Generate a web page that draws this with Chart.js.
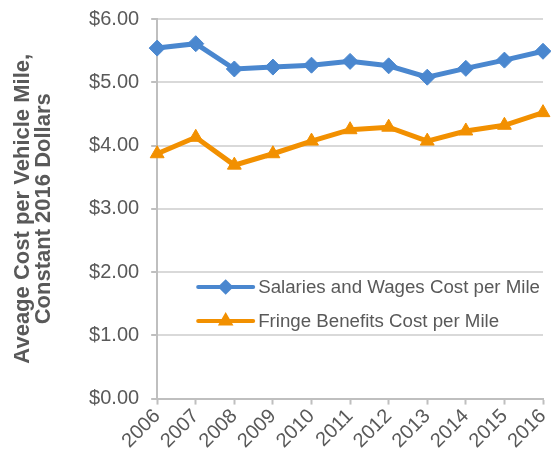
<!DOCTYPE html>
<html>
<head>
<meta charset="utf-8">
<script src="https://cdn.jsdelivr.net/npm/chart.js@4/dist/chart.umd.min.js"></script>
<style>
  html, body { margin: 0; padding: 0; background: #fff; }
  #wrap { width: 551px; height: 457px; position: relative; }
</style>
</head>
<body>
<div id="wrap"><canvas id="c" width="551" height="457"></canvas></div>
<script>
const years = ["2006","2007","2008","2009","2010","2011","2012","2013","2014","2015","2016"];
const salariesWages = [5.54, 5.61, 5.21, 5.24, 5.27, 5.33, 5.26, 5.08, 5.22, 5.35, 5.49];
const fringeBenefits = [3.87, 4.13, 3.69, 3.87, 4.07, 4.25, 4.29, 4.07, 4.23, 4.32, 4.52];
const seriesNames = ["Salaries and Wages Cost per Mile", "Fringe Benefits Cost per Mile"];
const yTitle = ["Aveage Cost per Vehicle Mile,", "Constant 2016 Dollars"];

const BLUE = '#4a87cf';
const ORANGE = '#f29000';
const TXT = '#595959';
const AXIS = '#bfbfbf';
const GRID = '#d9d9d9';
const FONT = "'Liberation Sans', Arial, sans-serif";

const insideLegend = {
  id: 'insideLegend',
  afterDatasetsDraw(chart) {
    const ctx = chart.ctx;
    const a = chart.chartArea;
    const x0 = a.left + 41, x1 = a.left + 96;
    const rows = [a.top + 268, a.top + 302];
    chart.data.datasets.forEach((ds, i) => {
      const y = rows[i];
      ctx.save();
      ctx.strokeStyle = ds.borderColor;
      ctx.lineWidth = 4;
      ctx.lineCap = 'round';
      ctx.beginPath();
      ctx.moveTo(x0, y); ctx.lineTo(x1, y);
      ctx.stroke();
      ctx.fillStyle = ds.borderColor;
      ctx.strokeStyle = ds.borderColor;
      Chart.helpers.drawPoint(ctx, { pointStyle: ds.pointStyle, radius: 5, borderWidth: 1 }, (x0 + x1) / 2, y);
      ctx.fillStyle = TXT;
      ctx.font = "18.7px " + FONT;
      ctx.textBaseline = 'middle';
      ctx.textAlign = 'left';
      ctx.fillText(ds.label, x1 + 5, y + 1);
      ctx.restore();
    });
  }
};

new Chart(document.getElementById('c'), {
  type: 'line',
  data: {
    labels: years,
    datasets: [
      {
        label: seriesNames[0],
        data: salariesWages,
        borderColor: BLUE,
        backgroundColor: BLUE,
        borderWidth: 5,
        pointStyle: 'rectRot',
        pointRadius: 8,
        pointBorderWidth: 1,
        pointHoverRadius: 8,
        tension: 0,
        clip: false
      },
      {
        label: seriesNames[1],
        data: fringeBenefits,
        borderColor: ORANGE,
        backgroundColor: ORANGE,
        borderWidth: 5,
        pointStyle: 'triangle',
        pointRadius: 8,
        pointBorderWidth: 1,
        pointHoverRadius: 8,
        tension: 0,
        clip: false
      }
    ]
  },
  options: {
    responsive: false,
    animation: false,
    devicePixelRatio: 1,
    layout: { autoPadding: false, padding: { left: 12, right: 1, top: 0, bottom: 4 } },
    plugins: {
      legend: { display: false },
      tooltip: { enabled: false }
    },
    scales: {
      x: {
        offset: false,
        afterFit(scale) { scale.paddingRight = 8; },
        grid: {
          drawOnChartArea: false,
          drawTicks: true,
          tickLength: 6,
          tickColor: AXIS,
          tickWidth: 2
        },
        border: { color: AXIS, width: 2 },
        ticks: {
          color: TXT,
          font: { family: FONT, size: 20 },
          maxRotation: 45,
          minRotation: 45,
          padding: 0,
          autoSkip: false
        }
      },
      y: {
        min: 0,
        max: 6,
        afterFit(scale) { scale.paddingTop = 19; scale.paddingBottom = 0; },
        grid: {
          color: GRID,
          lineWidth: 2,
          borderDash: [7, 4],
          drawTicks: true,
          tickLength: 6,
          tickColor: AXIS,
          tickWidth: 2,
          tickBorderDash: []
        },
        border: { color: AXIS, width: 2, dash: [] },
        ticks: {
          stepSize: 1,
          color: TXT,
          font: { family: FONT, size: 20 },
          padding: 12,
          callback: v => '$' + Number(v).toFixed(2)
        },
        title: {
          display: true,
          text: yTitle,
          color: TXT,
          font: { family: FONT, size: 22, weight: 'bold', lineHeight: 0.98 },
          padding: { top: 0, bottom: 22 }
        }
      }
    }
  },
  plugins: [insideLegend]
});
</script>
</body>
</html>
